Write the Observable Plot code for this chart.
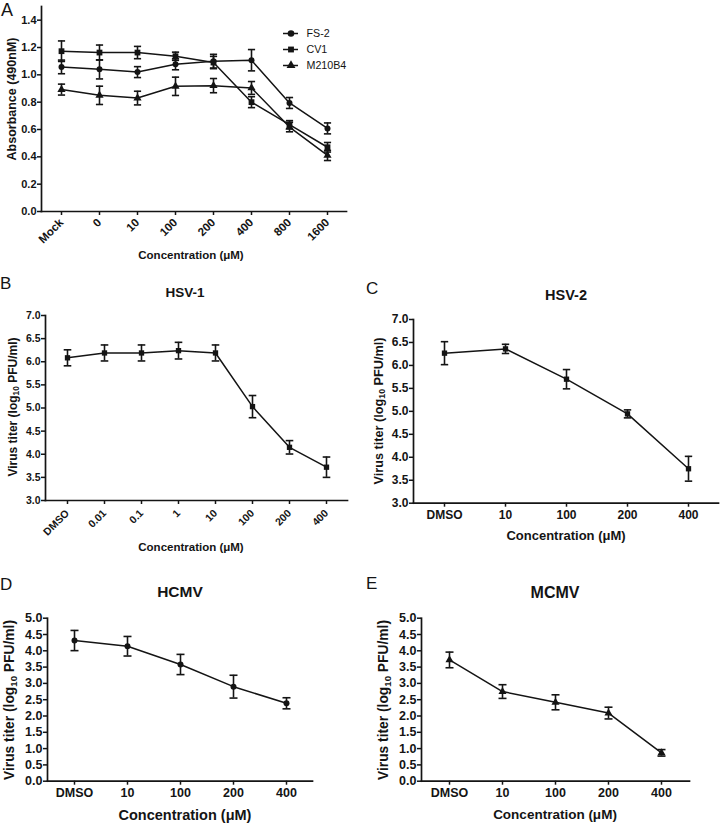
<!DOCTYPE html>
<html><head><meta charset="utf-8">
<script src="https://cdn.jsdelivr.net/npm/d3@7"></script>
<script src="https://cdn.jsdelivr.net/npm/@observablehq/plot@0.6"></script>
<style>
body{margin:0;background:#fff;}
#wrap{position:relative;width:720px;height:823px;overflow:hidden;font-family:"Liberation Sans",Arial,sans-serif;color:#141414;}
.t{position:absolute;white-space:nowrap;line-height:1;transform:translate(-50%,-50%);font-weight:bold;}
.yl{transform:translate(-50%,-50%) rotate(-90deg);}
.letter{position:absolute;font-weight:normal;line-height:1;white-space:nowrap;}
.p{position:absolute;}
sub{font-size:70%;vertical-align:-0.25em;line-height:0;}
</style></head>
<body><div id="wrap"></div>
<script>
// ---------- Data ----------
// Panel A: absorbance
const catsA = ["Mock","0","10","100","200","400","800","1600"];
const seriesA = ["FS-2","CV1","M210B4"];
const symbolsA = ["circle","square","triangle"];
const fs2Mean = [1.058,1.04,1.02,1.077,1.10,1.107,0.794,0.608];
const fs2Err  = [0.05,0.07,0.04,0.04,0.05,0.078,0.04,0.04];
const cv1Mean = [1.173,1.163,1.163,1.136,1.09,0.80,0.635,0.47];
const cv1Err  = [0.075,0.055,0.045,0.03,0.045,0.04,0.03,0.035];
const m210Mean = [0.892,0.85,0.83,0.916,0.921,0.904,0.618,0.41];
const m210Err  = [0.04,0.067,0.05,0.067,0.052,0.047,0.035,0.037];
const ticksA = [0,0.2,0.4,0.6,0.8,1.0,1.2,1.4];

// Panel B: HSV-1
const catsB = ["DMSO","0.01","0.1","1","10","100","200","400"];
const hsv1Mean = [6.085,6.19,6.19,6.24,6.19,5.03,4.15,3.72];
const hsv1Err  = [0.173,0.173,0.173,0.18,0.173,0.24,0.145,0.22];
const ticksB = [3.0,3.5,4.0,4.5,5.0,5.5,6.0,6.5,7.0];

// Panel C: HSV-2
const catsC = ["DMSO","10","100","200","400"];
const hsv2Mean = [6.267,6.36,5.70,4.945,3.75];
const hsv2Err  = [0.25,0.1,0.21,0.087,0.27];

// Panel D: HCMV
const catsD = ["DMSO","10","100","200","400"];
const hcmvMean = [4.315,4.14,3.58,2.90,2.39];
const hcmvErr  = [0.31,0.3,0.31,0.35,0.17];
const ticksD = [0,0.5,1.0,1.5,2.0,2.5,3.0,3.5,4.0,4.5,5.0];

// Panel E: MCMV
const catsE = ["DMSO","10","100","200","400"];
const mcmvMean = [3.72,2.75,2.42,2.09,0.87];
const mcmvErr  = [0.24,0.21,0.23,0.18,0.1];

// ---------- Helpers ----------
const wrap = document.getElementById("wrap");
const capSymbol = {draw(ctx, size){ const w = Math.sqrt(size/Math.PI); ctx.moveTo(-w,0); ctx.lineTo(w,0); }};
const FONT = "Liberation Sans, Arial, sans-serif";

function place(el, left, top){
  const d = document.createElement("div");
  d.className = "p"; d.style.left = left+"px"; d.style.top = top+"px";
  d.appendChild(el); wrap.appendChild(d);
}
function text(html, x, y, size, cls){
  const d = document.createElement("div");
  d.className = cls || "t";
  d.style.left = x+"px"; d.style.top = y+"px"; d.style.fontSize = size+"px";
  d.innerHTML = html; wrap.appendChild(d);
}

function panel(o){
  const rows = [];
  o.series.forEach((s,i)=> o.cats.forEach((c,j)=> rows.push({s, c, v: o.means[i][j], e: o.errs[i][j]})));
  const fmt = d3.format(".1f");
  const plot = Plot.plot({
    width: o.width, height: o.height,
    marginLeft: o.mL, marginRight: o.mR, marginTop: o.mT, marginBottom: o.mB,
    style: {background:"transparent", fontFamily: FONT, fontWeight:"bold", fontSize: o.fontSize+"px", color:"#141414", overflow:"visible"},
    x: {type:"point", domain: o.cats, padding: 0.5},
    y: {domain: o.yDomain},
    symbol: {domain: o.series, range: o.symbols},
    marks: [
      Plot.axisY({ticks: o.yTicks, tickFormat: fmt, tickSize: 4, tickPadding: 1, label: null, strokeWidth: 1.5}),
      Plot.axisX({tickSize: 4, tickPadding: o.xPad, tickRotate: o.rotate || 0, label: null, strokeWidth: 1.5, fontSize: o.xFont || o.fontSize}),
      Plot.frame({anchor:"left", strokeWidth: 1.7}),
      Plot.frame({anchor:"bottom", strokeWidth: 1.7}),
      Plot.ruleX(rows, {x:"c", y1: d=>d.v-d.e, y2: d=>d.v+d.e, strokeWidth: 1.6}),
      Plot.dot(rows, {x:"c", y: d=>d.v+d.e, symbol: capSymbol, r: o.cap, fill:"none", stroke:"currentColor", strokeWidth: 1.6}),
      Plot.dot(rows, {x:"c", y: d=>d.v-d.e, symbol: capSymbol, r: o.cap, fill:"none", stroke:"currentColor", strokeWidth: 1.6}),
      Plot.line(rows, {x:"c", y:"v", z:"s", stroke:"currentColor", strokeWidth: 1.5}),
      Plot.dot(rows, {x:"c", y:"v", symbol:"s", r: d=>o.rs[o.series.indexOf(d.s)], fill:"currentColor", stroke:"none"})
    ]
  });
  place(plot, o.left, o.top);
}

// ---------- Panel A ----------
panel({cats: catsA, series: seriesA, symbols: symbolsA,
  means: [fs2Mean, cv1Mean, m210Mean], errs: [fs2Err, cv1Err, m210Err],
  yDomain: [0,1.5], yTicks: ticksA, left: 0, top: 0, width: 360, height: 250,
  mL: 41, mR: 14, mT: 6, mB: 39, fontSize: 11, xFont: 11.5, xPad: 5, rotate: -45, rs: [3.3,3.9,3.4], cap: 3.6});

// Legend for A (drawn with Plot)
{
  const leg = Plot.plot({
    width: 120, height: 42, marginLeft: 5, marginRight: 100, marginTop: 5, marginBottom: 5,
    style: {background:"transparent", fontFamily: FONT, fontSize:"10.7px", color:"#141414", overflow:"visible"},
    y: {type:"point", domain: seriesA, padding: 0, axis: null},
    symbol: {domain: seriesA, range: symbolsA},
    marks: [
      Plot.ruleY(seriesA, {y: d=>d, strokeWidth: 1.5}),
      Plot.dot(seriesA, {y: d=>d, symbol: d=>d, r: 3.3, fill:"currentColor", stroke:"none"}),
      Plot.text(seriesA, {y: d=>d, text: d=>d, frameAnchor:"right", textAnchor:"start", dx: 8})
    ]
  });
  place(leg, 278, 28);
}
text("A", 1, 1, 18, "letter");
text("Absorbance (490nM)", 12, 99, 12.5, "t yl");
text("Concentration (&mu;M)", 191, 256, 11.5);

// ---------- Panel B ----------
panel({cats: catsB, series: ["HSV-1"], symbols: ["square"],
  means: [hsv1Mean], errs: [hsv1Err],
  yDomain: [3,7], yTicks: ticksB, left: 0, top: 305, width: 360, height: 235,
  mL: 45, mR: 13, mT: 10, mB: 40, fontSize: 10.5, xPad: 7, rotate: -45, rs: [3.8], cap: 3.8});
text("B", 0, 275, 17, "letter");
text("HSV-1", 185, 293, 13.5);
text("Virus titer (log<sub>10</sub> PFU/ml)", 12.5, 407, 12, "t yl");
text("Concentration (&mu;M)", 191, 548, 11.5);

// ---------- Panel C ----------
panel({cats: catsC, series: ["HSV-2"], symbols: ["square"],
  means: [hsv2Mean], errs: [hsv2Err],
  yDomain: [3,7], yTicks: ticksB, left: 360, top: 305, width: 360, height: 218,
  mL: 53, mR: 2, mT: 14, mB: 20.3, fontSize: 12, xPad: 3, rotate: 0, rs: [3.8], cap: 3.7});
text("C", 366, 280, 17, "letter");
text("HSV-2", 566, 295, 14.5);
text("Virus titer (log<sub>10</sub> PFU/ml)", 379, 411, 12.7, "t yl");
text("Concentration (&mu;M)", 566, 535, 13);

// ---------- Panel D ----------
panel({cats: catsD, series: ["HCMV"], symbols: ["circle"],
  means: [hcmvMean], errs: [hcmvErr],
  yDomain: [0,5], yTicks: ticksD, left: 0, top: 605, width: 360, height: 196,
  mL: 47, mR: 48, mT: 12.7, mB: 20.3, fontSize: 12.5, xPad: 3, rotate: 0, rs: [3.6], cap: 4});
text("D", 0, 576, 17, "letter");
text("HCMV", 180, 592, 15.5);
text("Virus titer (log<sub>10</sub> PFU/ml)", 9.5, 700, 13.8, "t yl");
text("Concentration (&mu;M)", 185, 815, 14.5);

// ---------- Panel E ----------
panel({cats: catsE, series: ["MCMV"], symbols: ["triangle"],
  means: [mcmvMean], errs: [mcmvErr],
  yDomain: [0,5], yTicks: ticksD, left: 360, top: 605, width: 360, height: 196,
  mL: 61, mR: 31, mT: 12.7, mB: 20.3, fontSize: 12.5, xPad: 3, rotate: 0, rs: [3.3], cap: 4});
text("E", 366, 575, 17, "letter");
text("MCMV", 555, 593, 16);
text("Virus titer (log<sub>10</sub> PFU/ml)", 384, 700, 13.8, "t yl");
text("Concentration (&mu;M)", 555, 815, 13.5);
</script>
</body></html>
